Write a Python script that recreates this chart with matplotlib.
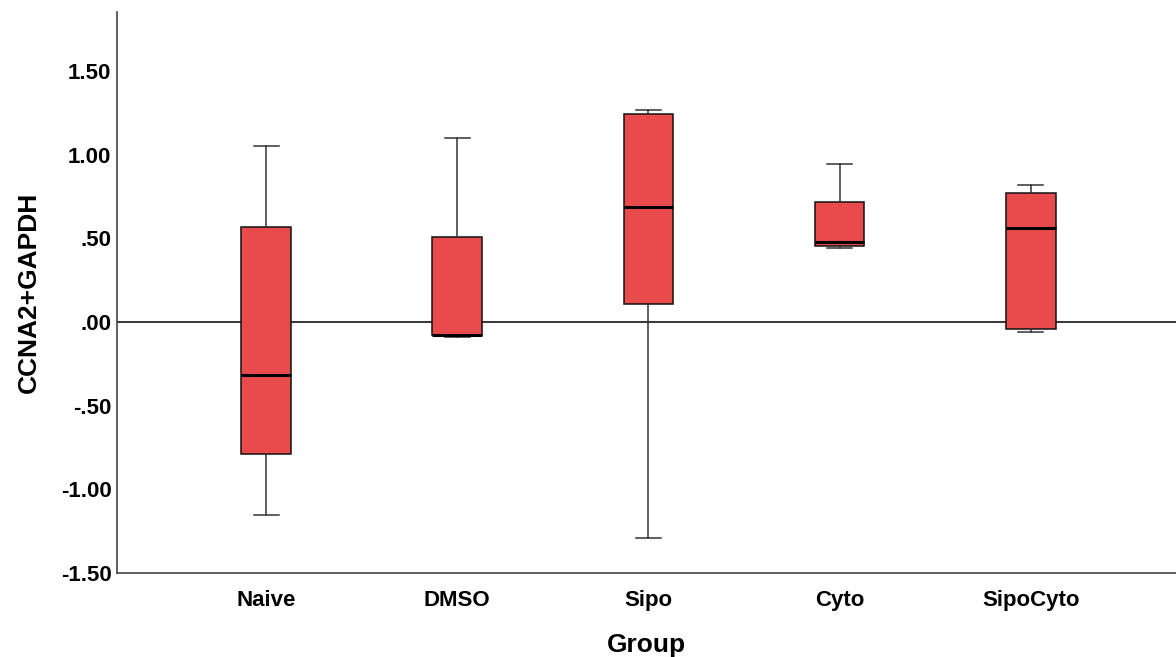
import matplotlib
matplotlib.use("Agg")
import matplotlib.pyplot as plt

plt.rcParams["font.family"] = ["Liberation Sans", "DejaVu Sans"]

groups = ["Naive", "DMSO", "Sipo", "Cyto", "SipoCyto"]
whislo = [-1.155, -0.088, -1.289, 0.442, -0.060]
q1 = [-0.787, -0.078, 0.106, 0.456, -0.042]
med = [-0.317, -0.080, 0.687, 0.476, 0.564]
q3 = [0.570, 0.510, 1.241, 0.715, 0.773]
whishi = [1.054, 1.098, 1.267, 0.943, 0.817]

yticks = [-1.5, -1.0, -0.5, 0.0, 0.5, 1.0, 1.5]
ytick_labels = ["-1.50", "-1.00", "-.50", ".00", ".50", "1.00", "1.50"]

stats = [dict(label=g, whislo=a, q1=b, med=c, q3=d, whishi=e, fliers=[])
         for g, a, b, c, d, e in zip(groups, whislo, q1, med, q3, whishi)]

fig = plt.figure(figsize=(11.76, 6.57), dpi=100)
ax = fig.add_axes([117 / 1176, 1 - 573 / 657, 1 - 117 / 1176, (573 - 12) / 657])

ax.axhline(0, color="black", lw=1.1, zorder=1)
ax.bxp(stats, positions=range(len(groups)), widths=0.26, patch_artist=True,
       boxprops=dict(facecolor="#E94B4C", edgecolor="#111111", linewidth=1.1),
       medianprops=dict(color="black", linewidth=2.2),
       whiskerprops=dict(color="#333333", linewidth=1.1),
       capprops=dict(color="#333333", linewidth=1.1),
       capwidths=0.13, showfliers=False, zorder=2)

ax.set_xlim(-0.78, 4.76)
ax.set_ylim(-1.5, 1.853)
ax.set_yticks(yticks)
ax.set_yticklabels(ytick_labels)
ax.set_xticks(range(len(groups)))
ax.set_xticklabels(groups)
ax.tick_params(axis="both", length=0, labelsize=16)
ax.tick_params(axis="x", pad=12)
ax.tick_params(axis="y", pad=4)
for lab in ax.get_xticklabels() + ax.get_yticklabels():
    lab.set_fontweight("bold")

for s in ["top", "right"]:
    ax.spines[s].set_visible(False)
for s in ["left", "bottom"]:
    ax.spines[s].set_color("#444444")
    ax.spines[s].set_linewidth(1.2)

ax.set_xlabel("Group", fontsize=19, fontweight="bold", labelpad=16)
ax.set_ylabel("CCNA2+GAPDH", fontsize=19, fontweight="bold", labelpad=14)

fig.savefig("out.png", dpi=100)
